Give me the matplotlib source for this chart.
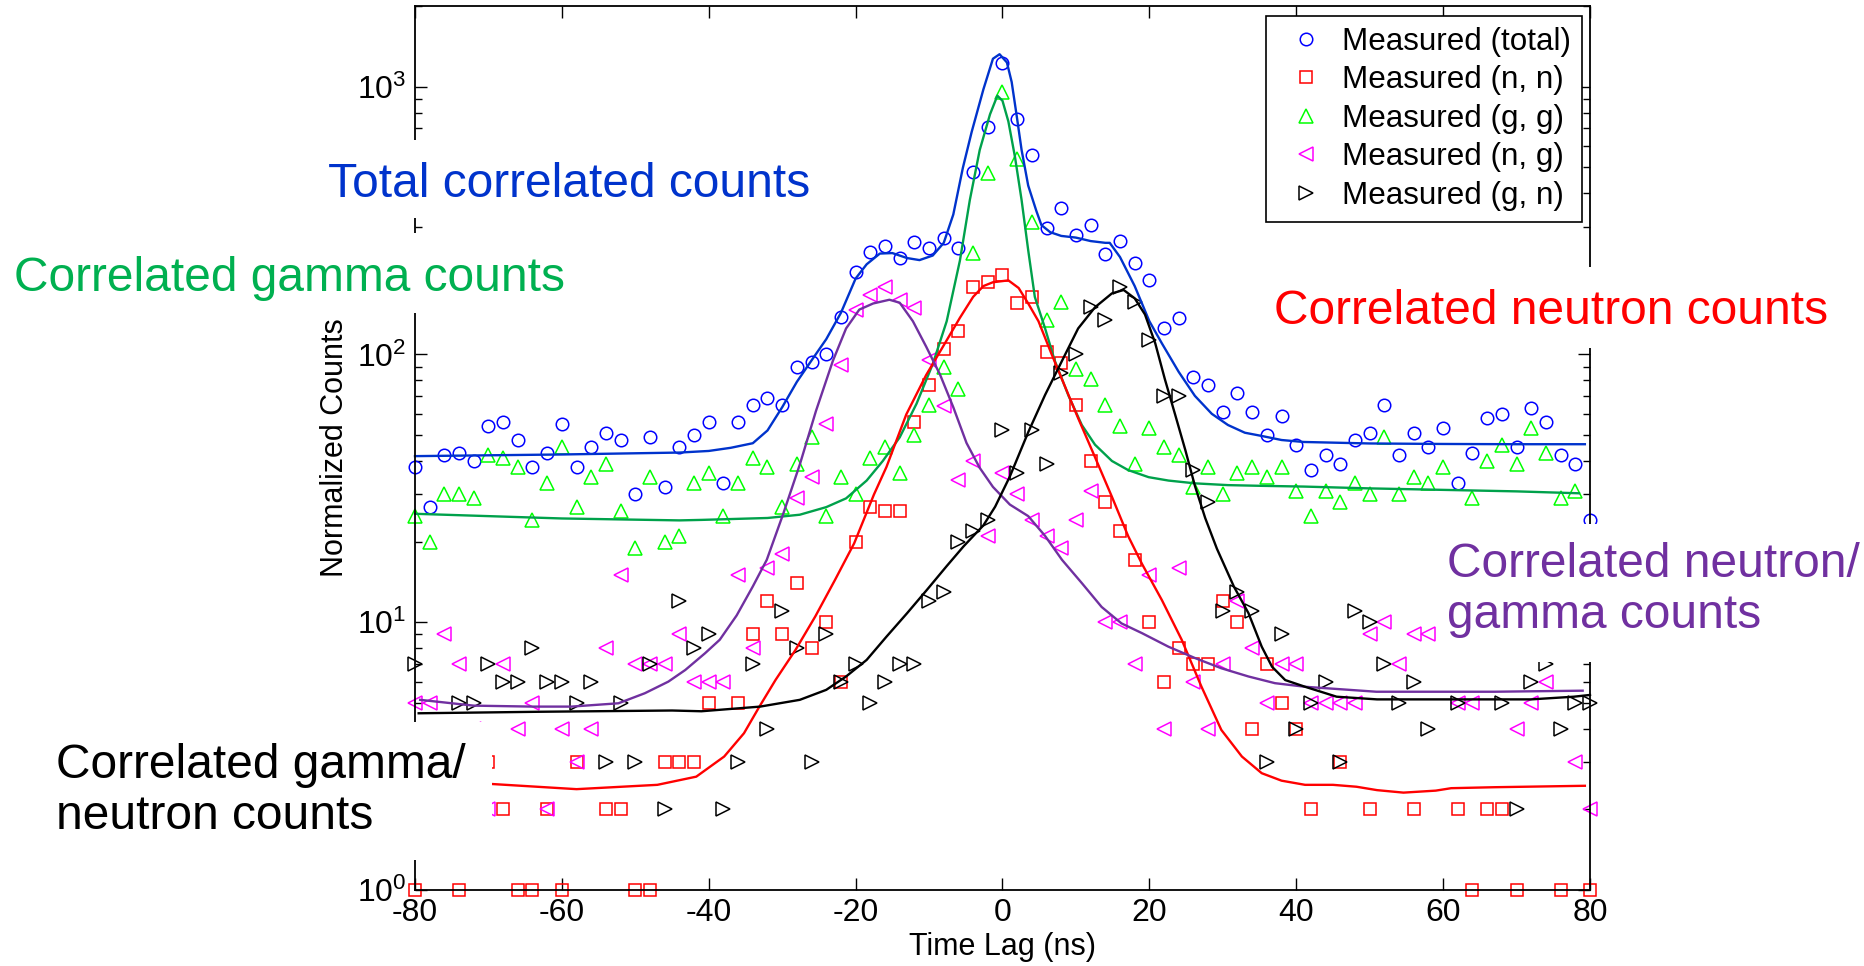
import numpy as np
import matplotlib
matplotlib.use("Agg")
import matplotlib.pyplot as plt
from matplotlib.lines import Line2D
from matplotlib.patches import Rectangle
from matplotlib.ticker import LogLocator, NullFormatter, NullLocator, LogFormatterMathtext

plt.rcParams['font.family'] = ['Liberation Sans', 'DejaVu Sans']
plt.rcParams['mathtext.fontset'] = 'custom'
plt.rcParams['mathtext.rm'] = 'Liberation Sans'
plt.rcParams['mathtext.it'] = 'Liberation Sans:italic'
plt.rcParams['mathtext.bf'] = 'Liberation Sans:bold'
plt.rcParams['axes.unicode_minus'] = False

nan = np.nan

# measured points, one every 2 ns from -80 to 80
time_lag = list(range(-80, 81, 2))

meas_total = [38, 27, 42, 43, 40, 54, 56, 48, 38, 43,
              55, 38, 45, 51, 48, 30, 49, 32, 45, 50,
              56, 33, 56, 65, 69, 65, 90, 94, 100, 138,
              203, 242, 255, 229, 263, 249, 273, 249, 480, 705,
              1220, 755, 555, 297, 352, 279, 304, 237, 265, 220,
              190, 125, 137, 82, 77, 61, 72, 61, 50, 59,
              46, 37, 42, 39, 48, 51, 65, 42, 51, 45,
              53, 33, 43, 58, 60, 45, 63, 56, 42, 39,
              24]

meas_nn = [1, nan, nan, 1, nan, 3, 2, 1, 1, 2,
           1, 3, nan, 2, 2, 1, 1, 3, 3, 3,
           5, nan, 5, 9, 12, 9, 14, 8, 10, 6,
           20, 27, 26, 26, 56, 77, 105, 122, 178, 186,
           198, 156, 164, 102, 93, 65, 40, 28, 22, 17,
           10, 6, 8, 7, 7, 12, 10, 4, 7, 5,
           4, 2, nan, 3, nan, 2, nan, nan, 2, nan,
           nan, 2, 1, 2, 2, 1, nan, nan, 1, nan,
           1]

meas_gg = [25, 20, 30, 30, 29, 42, 41, 38, 24, 33,
           45, 27, 35, 39, 26, 19, 35, 20, 21, 33,
           36, 25, 33, 41, 38, 27, 39, 49, 25, 35,
           30, 41, 45, 36, 50, 65, 90, 74, 239, 475,
           955, 537, 312, 134, 157, 88, 81, 65, 54, 39,
           53, 45, 42, 32, 38, 30, 36, 38, 35, 38,
           31, 25, 31, 28, 33, 30, 49, 30, 35, 33,
           38, nan, 29, 40, 46, 39, 53, 43, 29, 31,
           nan]

meas_ng = [5, 5, 9, 7, 4, 2, 7, 4, 5, 2,
           4, 3, 4, 8, 15, 7, 7, 7, 9, 6,
           6, 6, 15, 8, 16, 18, 29, 35, 55, 91,
           146, 166, 179, 160, 149, 95, 64, 34, 40, 21,
           36, 30, 24, 21, 19, 24, 31, 10, 10, 7,
           15, 4, 16, 6, 4, 7, 12, 8, 5, 7,
           7, 5, 5, 5, 5, 9, 10, 7, 9, 9,
           nan, 5, 5, nan, nan, 4, 5, 6, nan, 3,
           2]

meas_gn = [7, nan, nan, 5, 5, 7, 6, 6, 8, 6,
           6, 5, 6, 3, 5, 3, 7, 2, 12, 8,
           9, 2, 3, 7, 4, 11, 8, 3, 9, 6,
           7, 5, 6, 7, 7, 12, 13, 20, 22, 24,
           52, 36, 52, 39, 85, 100, 150, 135, 178, 157,
           113, 70, 70, 37, 28, 11, 13, 11, 3, 9,
           4, 5, 6, 3, 11, 10, 7, 5, 6, 4,
           nan, 5, nan, nan, 5, 2, 6, 7, 4, 5,
           5]

# fitted curves at their own knots
fit_total_t = [-80, -60, -44, -40, -37, -34, -32, -30, -28, -26, -24, -22, -20, -18.5,
               -16.7, -15, -13, -11.3, -9.5, -8, -6.7, -5.4, -4.2, -2.6, -1.3, -0.4,
               0.6, 1.25, 1.9, 2.6, 3.5, 4.6, 5.3, 6.5, 8, 10, 12, 14, 14.6, 16, 18,
               20, 21.7, 24, 26.2, 28.5, 30.7, 33, 35.3, 38, 41, 50, 60, 70, 79.3]
fit_total_y = [41.7, 42.3, 43, 43.6, 44.8, 46.6, 52, 63.5, 79, 95, 114, 143, 192, 217,
               238, 239, 229, 225, 234, 261, 333, 497, 677, 977, 1271, 1321,
               1231, 1040, 789, 580, 427, 344, 304, 286, 277, 273, 265, 261, 261, 231, 180,
               133, 110, 86, 70, 60, 54.5, 51, 49.6, 47.9, 47.1, 46.5, 46.3, 46.2, 46.2]

fit_gg_t = [-80, -60, -44, -41, -32, -27.6, -24, -21.3, -18.5, -16.3, -14, -11.7, -9.5,
            -7.6, -5.8, -4.45, -3.1, -1.7, -0.7, 0, 0.8, 1.7, 2.6, 3.5, 4.4, 5.8, 7.1,
            9, 10.8, 12.6, 14.9, 17.1, 19.9, 22.6, 26.2, 30.7, 35.3, 41, 50, 60, 70, 78.5]
fit_gg_y = [25.4, 24.4, 24, 24.1, 24.5, 25.2, 26.9, 29, 33.8, 40, 49, 65.5, 92,
            133, 224, 377, 580, 788, 925, 885, 741, 546, 377, 245, 164, 125, 95,
            70, 54.5, 46, 40, 37, 34.8, 33.8, 33, 32.5, 32.3, 32.1, 31.6, 31.2, 30.8, 30.3]

fit_nn_t = [-79, -58, -47, -41.7, -37.9, -35.2, -33.1, -30.9, -28.2, -25.5, -22.8, -20.2,
            -17.5, -15.8, -13.1, -10.4, -8.1, -5.8, -4, -2.6, -1.3, 0.8, 2.2, 3.5, 4.9,
            6.7, 8.5, 10.3, 12.6, 14.9, 17.1, 19, 21.7, 24.4, 27.1, 29.8, 32.6, 35.3,
            38, 41.2, 45, 48.2, 51, 54.6, 59, 61.1, 67, 79.3]
fit_nn_y = [2.58, 2.38, 2.47, 2.65, 3.15, 3.85, 4.84, 6.09, 7.87, 10.5, 14.4, 19.7,
            30, 38, 59.7, 83.7, 107, 137, 164, 180, 186, 189, 177, 155, 133,
            100, 76, 57.8, 41.3, 29.4, 21, 16.5, 12.1, 8.6, 5.74, 3.96, 3.15, 2.73,
            2.56, 2.47, 2.47, 2.43, 2.36, 2.31, 2.35, 2.40, 2.42, 2.45]

fit_ng_t = [-79.3, -72, -64, -58.7, -52.3, -48.7, -45.5, -43.2, -40.5, -38.5, -36.2, -34,
            -32.1, -29.9, -27.6, -25.4, -23.1, -21.3, -19.5, -17.6, -15.4, -14, -12.2,
            -10.4, -8.5, -6.7, -4.9, -3.1, -1.3, 1.0, 3.5, 5.8, 8.1, 10.8, 13.5, 16.2,
            19, 22.6, 26.2, 29.8, 33.5, 37.1, 41.2, 50.9, 67, 79]
fit_ng_y = [5.13, 4.88, 4.84, 4.84, 4.98, 5.43, 6.0, 6.63, 7.66, 8.6, 10.6, 13.6,
            17.1, 25.2, 38.8, 61.5, 94.6, 125, 147, 155, 160, 156, 133,
            107, 84, 63.5, 46.7, 37.7, 32, 27.5, 24.9, 21, 17.1, 14, 11.4, 9.9,
            9.1, 8.1, 7.35, 6.73, 6.27, 5.92, 5.74, 5.5, 5.5, 5.55]

fit_gn_t = [-79.5, -63, -45, -41, -33, -27.6, -24, -21.3, -18.5, -15.8, -13, -10.3, -7.6,
            -5.3, -2.6, -1, 1, 3.5, 5.8, 8.1, 10.3, 12.6, 14.9, 16.5, 18, 19.4, 20.8,
            22.1, 23.5, 24.9, 26.2, 27.6, 29.2, 31.5, 33.5, 35.3, 36.7, 38.5, 41.2,
            45.5, 51, 62, 72, 77.8, 80]
fit_gn_y = [4.57, 4.63, 4.68, 4.65, 4.84, 5.13, 5.59, 6.27, 7.23, 8.83, 10.8, 13.2, 16.2,
            19.2, 23, 27, 35, 51.2, 70.6, 94.6, 125, 150, 169, 174, 162, 141, 110,
            81, 59.7, 43.9, 32.3, 24.5, 18.8, 13.6, 10.8, 8.1, 6.82, 6.08, 5.74,
            5.27, 5.15, 5.15, 5.15, 5.27, 5.35]

legend_labels = ['Measured (total)', 'Measured (n, n)', 'Measured (g, g)',
                 'Measured (n, g)', 'Measured (g, n)']

W, H = 1865, 966
fig = plt.figure(figsize=(W / 100, H / 100), dpi=100)
ax = fig.add_axes([415 / W, 1 - 890 / H, 1175 / W, 884 / H])

marker_style = dict(ls='none', mfc='none', mew=1.1, clip_on=False)
series = [
    (meas_total, 'o', '#0000ff', 9.0),
    (meas_nn, 's', '#ff0000', 8.5),
    (meas_gg, '^', '#00ff00', 9.5),
    (meas_ng, '<', '#ff00ff', 9.5),
    (meas_gn, '>', '#000000', 9.5),
]
handles = []
for vals, mk, col, ms in series:
    ax.plot(time_lag, vals, marker=mk, mec=col, ms=ms, **marker_style)
    handles.append(Line2D([], [], marker=mk, mec=col, ms=ms, **marker_style))

fits = [
    (fit_total_t, fit_total_y, '#0033cc'),
    (fit_gg_t, fit_gg_y, '#00a14b'),
    (fit_nn_t, fit_nn_y, '#ff0000'),
    (fit_ng_t, fit_ng_y, '#7030a0'),
    (fit_gn_t, fit_gn_y, '#000000'),
]
for ft, fy, col in fits:
    ax.plot(ft, fy, '-', color=col, lw=1.7, clip_on=False)

ax.set_yscale('log')
ax.set_ylim(1, 2000)
ax.set_xlim(-80, 80)
ax.set_xticks(range(-80, 81, 20))
ax.xaxis.set_minor_locator(NullLocator())
ax.yaxis.set_major_locator(LogLocator(base=10, numticks=10))
ax.yaxis.set_major_formatter(LogFormatterMathtext())
ax.yaxis.set_minor_locator(LogLocator(base=10, subs=np.arange(2, 10), numticks=10))
ax.yaxis.set_minor_formatter(NullFormatter())
ax.tick_params(which='both', direction='in', top=True, right=True, color='black')
ax.tick_params(which='major', length=8.5, width=1.0, labelsize=23, pad=6)
ax.tick_params(which='minor', length=5, width=1.0, labelleft=False)
for sp in ax.spines.values():
    sp.set_linewidth(1.3)

ax.set_xlabel('Time Lag (ns)', fontsize=22)
ax.set_ylabel('Normalized Counts', fontsize=22)
ax.xaxis.set_label_coords(0.5, -0.047)
ax.yaxis.set_label_coords(-0.055, 0.5)

leg = ax.legend(handles, legend_labels, loc='upper right', bbox_to_anchor=(0.993, 0.989),
                fontsize=22.6, frameon=True, fancybox=False, edgecolor='black', framealpha=1,
                borderaxespad=0, handlelength=1.85, handletextpad=0.2, borderpad=0.35,
                labelspacing=0.27)
leg.get_frame().set_linewidth(1.2)

# white text boxes pasted over the plot, then the annotations
boxes = [(320, 140, 815, 218), (0, 233, 565, 313), (1265, 267, 1865, 348),
         (1440, 524, 1865, 662), (0, 722, 492, 860)]
for x0, y0, x1, y1 in boxes:
    fig.add_artist(Rectangle((x0 / W, 1 - y1 / H), (x1 - x0) / W, (y1 - y0) / H,
                             transform=fig.transFigure, facecolor='white',
                             edgecolor='none', zorder=5))

# y is the baseline of the last line
notes = [
    ('Total correlated counts', 328, 197, '#0033cc'),
    ('Correlated gamma counts', 14, 291, '#00b050'),
    ('Correlated neutron counts', 1274, 324, '#ff0000'),
    ('Correlated neutron/\ngamma counts', 1447, 628, '#7030a0'),
    ('Correlated gamma/\nneutron counts', 56, 829, '#000000'),
]
for txt, x, y, col in notes:
    fig.text(x / W, 1 - y / H, txt, color=col, fontsize=34.5, ha='left', va='baseline',
             linespacing=1.16, zorder=6)

fig.savefig('out.png', dpi=100)
